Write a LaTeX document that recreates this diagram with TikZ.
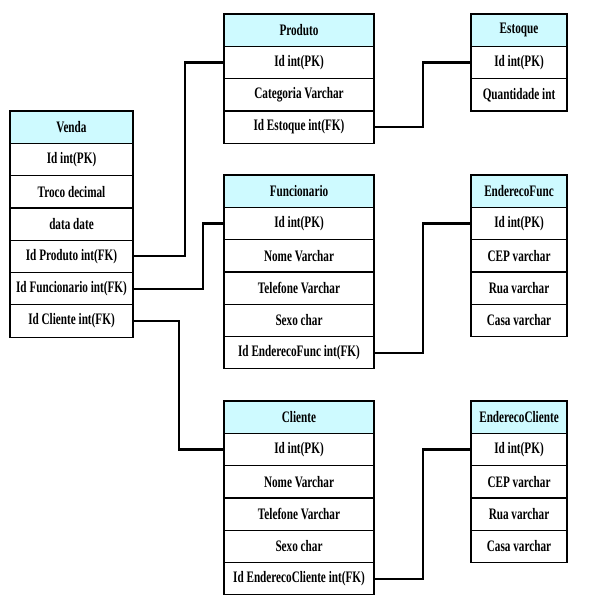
\documentclass[tikz,border=0pt]{standalone}
\usepackage{fontspec}
\setmainfont{Liberation Serif}[FakeStretch=0.70]
\usetikzlibrary{positioning}
\definecolor{hdrcyan}{RGB}{206,250,255}

\begin{document}
\begin{tikzpicture}[
    x=1pt, y=-1pt,
    node distance=0pt,
    field/.style={rectangle, draw=black, line width=1.2pt, outer sep=0pt,
                  minimum height=32.3pt, inner sep=1pt, text centered,
                  font=\fontsize{16}{18}\selectfont\bfseries},
    hdr/.style={field, fill=hdrcyan},
    wide/.style={minimum width=150pt},
    mid/.style={minimum width=123pt},
    slim/.style={minimum width=96pt},
    link/.style={line width=2.2pt, line cap=rect},
]
\useasboundingbox (0,0) rectangle (600,600);

% Venda
\node[hdr, mid, anchor=north west] (venda) at (10,111) {Venda};
\node[field, mid, below=of venda] (venda1) {Id int(PK)};
\node[field, mid, below=of venda1] (venda2) {Troco decimal};
\node[field, mid, below=of venda2] (venda3) {data date};
\node[field, mid, below=of venda3] (venda4) {Id Produto int(FK)};
\node[field, mid, below=of venda4] (venda5) {Id Funcionario int(FK)};
\node[field, mid, below=of venda5] (venda6) {Id Cliente int(FK)};

% Produto
\node[hdr, wide, anchor=north west] (prod) at (224,14) {Produto};
\node[field, wide, below=of prod] (prod1) {Id int(PK)};
\node[field, wide, below=of prod1] (prod2) {Categoria Varchar};
\node[field, wide, below=of prod2] (prod3) {Id Estoque int(FK)};

% Estoque
\node[hdr, slim, anchor=north west] (estq) at (471,14) {Estoque};
\node[field, slim, below=of estq] (estq1) {Id int(PK)};
\node[field, slim, below=of estq1] (estq2) {Quantidade int};

% Funcionario
\node[hdr, wide, anchor=north west] (func) at (224,175) {Funcionario};
\node[field, wide, below=of func] (func1) {Id int(PK)};
\node[field, wide, below=of func1] (func2) {Nome Varchar};
\node[field, wide, below=of func2] (func3) {Telefone Varchar};
\node[field, wide, below=of func3] (func4) {Sexo char};
\node[field, wide, below=of func4] (func5) {Id EnderecoFunc int(FK)};

% EnderecoFunc
\node[hdr, slim, anchor=north west] (endf) at (471,175) {EnderecoFunc};
\node[field, slim, below=of endf] (endf1) {Id int(PK)};
\node[field, slim, below=of endf1] (endf2) {CEP varchar};
\node[field, slim, below=of endf2] (endf3) {Rua varchar};
\node[field, slim, below=of endf3] (endf4) {Casa varchar};

% Cliente
\node[hdr, wide, anchor=north west] (cli) at (224,401) {Cliente};
\node[field, wide, below=of cli] (cli1) {Id int(PK)};
\node[field, wide, below=of cli1] (cli2) {Nome Varchar};
\node[field, wide, below=of cli2] (cli3) {Telefone Varchar};
\node[field, wide, below=of cli3] (cli4) {Sexo char};
\node[field, wide, below=of cli4] (cli5) {Id EnderecoCliente int(FK)};

% EnderecoCliente
\node[hdr, slim, anchor=north west] (endc) at (471,401) {EnderecoCliente};
\node[field, slim, below=of endc] (endc1) {Id int(PK)};
\node[field, slim, below=of endc1] (endc2) {CEP varchar};
\node[field, slim, below=of endc2] (endc3) {Rua varchar};
\node[field, slim, below=of endc3] (endc4) {Casa varchar};

% Chaves estrangeiras
\draw[link] (venda4.east) -- ++(52,0) |- (prod1.west);
\draw[link] (venda5.east) -- ++(70,0) |- (func1.west);
\draw[link] (venda6.east) -- ++(46,0) |- (cli1.west);
\draw[link] (prod3.east) -- ++(49,0) |- (estq1.west);
\draw[link] (func5.east) -- ++(49,0) |- (endf1.west);
\draw[link] (cli5.east) -- ++(49,0) |- (endc1.west);

\end{tikzpicture}
\end{document}
